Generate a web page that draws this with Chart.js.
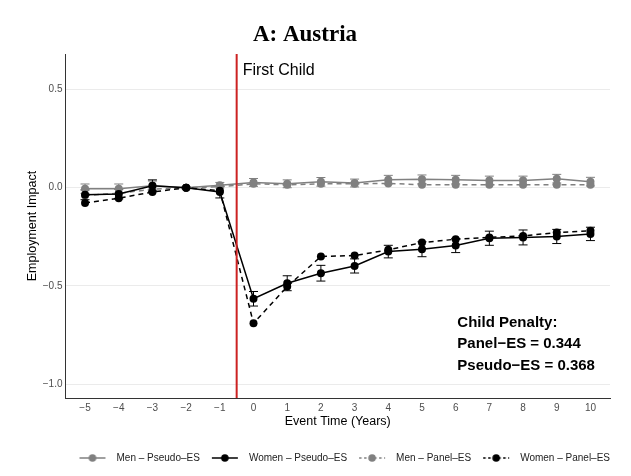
<!DOCTYPE html>
<html>
<head>
<meta charset="utf-8">
<script src="https://cdn.jsdelivr.net/npm/chart.js@4.4.0/dist/chart.umd.min.js"></script>
<style>
  html, body { margin: 0; padding: 0; background: #fff; }
  #wrap { width: 631px; height: 476px; }
</style>
</head>
<body>
<div id="wrap"><canvas id="penaltyChart" width="631" height="476"></canvas></div>
<script>
// event time (years relative to first child)
const events = [-5, -4, -3, -2, -1, 0, 1, 2, 3, 4, 5, 6, 7, 8, 9, 10];

// estimates
const menPseudo   = [-0.005, -0.005, 0.010, 0, 0.013, 0.027, 0.020, 0.030, 0.024, 0.041, 0.043, 0.041, 0.037, 0.037, 0.046, 0.031];
const womenPseudo = [-0.036, -0.032, 0.010, 0, -0.022, -0.565, -0.486, -0.435, -0.398, -0.325, -0.313, -0.294, -0.257, -0.253, -0.248, -0.235];
const menPanel    = [-0.040, -0.028, -0.008, 0, 0.005, 0.020, 0.015, 0.020, 0.020, 0.022, 0.015, 0.015, 0.015, 0.015, 0.015, 0.015];
const womenPanel  = [-0.078, -0.053, -0.022, 0, -0.015, -0.690, -0.503, -0.350, -0.345, -0.316, -0.279, -0.262, -0.253, -0.245, -0.228, -0.219];

// half-width of the confidence bands (pseudo-ES only)
const menPseudoCI   = [0.024, 0.024, 0.024, 0.006, 0.014, 0.020, 0.020, 0.022, 0.020, 0.022, 0.022, 0.022, 0.022, 0.022, 0.022, 0.022];
const womenPseudoCI = [0.025, 0.025, 0.030, 0.004, 0.030, 0.037, 0.038, 0.040, 0.036, 0.032, 0.038, 0.036, 0.036, 0.038, 0.036, 0.034];

const seriesLabels = ["Men \u2013 Pseudo\u2013ES", "Women \u2013 Pseudo\u2013ES", "Men \u2013 Panel\u2013ES", "Women \u2013 Panel\u2013ES"];
const xTicks = [-5, -4, -3, -2, -1, 0, 1, 2, 3, 4, 5, 6, 7, 8, 9, 10];
const yTicks = [-1.0, -0.5, 0.0, 0.5];
const penaltyLines = ["Child Penalty:", "Panel\u2212ES = 0.344", "Pseudo\u2212ES = 0.368"];

const GREY = "#808080";
const BLACK = "#000000";
const RED = "#cc2222";

Chart.defaults.font.family = "'Liberation Sans', Arial, sans-serif";

function pts(vals) {
    return events.map((e, i) => ({ x: e, y: vals[i] }));
}

function minus(v, digits) {
    const s = Math.abs(v).toFixed(digits);
    return v < 0 ? "\u2212" + s : s;
}

// line+dot keys for the legend (left gap 12, line 26, right gap 6)
function legendKey(color, dashed) {
    const c = document.createElement("canvas");
    c.width = 44;
    c.height = 12;
    const g = c.getContext("2d");
    g.strokeStyle = color;
    g.lineWidth = 1.5;
    if (dashed) g.setLineDash([2.5, 2.5]);
    g.beginPath();
    g.moveTo(12, 6);
    g.lineTo(38, 6);
    g.stroke();
    g.fillStyle = color;
    g.beginPath();
    g.arc(25, 6, 3.8, 0, Math.PI * 2);
    g.fill();
    return c;
}

const errorBars = {
    id: "errorBars",
    beforeDatasetsDraw(chart) {
        const ctx = chart.ctx;
        const y = chart.scales.y;
        chart.data.datasets.forEach((ds, i) => {
            if (!ds.ci) return;
            const meta = chart.getDatasetMeta(i);
            ctx.save();
            ctx.strokeStyle = ds.borderColor;
            ctx.lineWidth = 1;
            meta.data.forEach((pt, j) => {
                const v = ds.data[j].y;
                const top = y.getPixelForValue(v + ds.ci[j]);
                const bot = y.getPixelForValue(v - ds.ci[j]);
                ctx.beginPath();
                ctx.moveTo(pt.x, top); ctx.lineTo(pt.x, bot);
                ctx.moveTo(pt.x - 4.5, top); ctx.lineTo(pt.x + 4.5, top);
                ctx.moveTo(pt.x - 4.5, bot); ctx.lineTo(pt.x + 4.5, bot);
                ctx.stroke();
            });
            ctx.restore();
        });
    }
};

const annotations = {
    id: "annotations",
    afterDatasetsDraw(chart) {
        const ctx = chart.ctx;
        const { x, y } = chart.scales;
        const area = chart.chartArea;
        // first child marker
        const xr = x.getPixelForValue(-0.5);
        ctx.save();
        ctx.strokeStyle = RED;
        ctx.lineWidth = 2;
        ctx.beginPath();
        ctx.moveTo(xr, area.top);
        ctx.lineTo(xr, area.bottom);
        ctx.stroke();
        ctx.fillStyle = "#000";
        ctx.font = "16px 'Liberation Sans'";
        ctx.textBaseline = "middle";
        ctx.fillText("First Child", xr + 6, y.getPixelForValue(0.598));
        // child penalty box
        ctx.font = "bold 15px 'Liberation Sans'";
        const tx = x.getPixelForValue(6.05);
        const ty = y.getPixelForValue(-0.686);
        penaltyLines.forEach((t, i) => ctx.fillText(t, tx, ty + i * 21.5));
        ctx.restore();
    }
};

const styles = [
    { color: GREY, dashed: false, vals: menPseudo, ci: menPseudoCI, order: 2 },
    { color: BLACK, dashed: false, vals: womenPseudo, ci: womenPseudoCI, order: 1 },
    { color: GREY, dashed: true, vals: menPanel, ci: null, order: 2 },
    { color: BLACK, dashed: true, vals: womenPanel, ci: null, order: 1 }
];

const datasets = styles.map((s, i) => ({
    label: seriesLabels[i],
    data: pts(s.vals),
    ci: s.ci,
    order: s.order,
    borderColor: s.color,
    backgroundColor: s.color,
    pointBackgroundColor: s.color,
    pointBorderWidth: 0,
    pointRadius: 4,
    borderWidth: 1.5,
    borderDash: s.dashed ? [5, 4] : [],
    tension: 0
}));

new Chart(document.getElementById("penaltyChart"), {
    type: "line",
    data: { datasets },
    options: {
        responsive: false,
        animation: false,
        devicePixelRatio: 1,
        layout: { padding: { left: 0, right: 21, top: 0, bottom: 3 } },
        scales: {
            x: {
                type: "linear",
                min: -5.58,
                max: 10.58,
                afterBuildTicks: s => { s.ticks = xTicks.map(v => ({ value: v })); },
                afterFit: s => { s.height = 55; },
                grid: { display: false, drawTicks: false },
                border: { display: true, color: "#333", width: 1 },
                ticks: {
                    color: "#4d4d4d",
                    font: { size: 10 },
                    padding: 4,
                    maxRotation: 0,
                    autoSkip: false,
                    callback: v => minus(v, 0)
                },
                title: {
                    display: true,
                    text: "Event Time (Years)",
                    color: "#000",
                    font: { size: 12.5 },
                    padding: { top: 23.5, bottom: 23.5 }
                }
            },
            y: {
                min: -1.07,
                max: 0.68,
                afterBuildTicks: s => { s.ticks = yTicks.map(v => ({ value: v })); },
                afterFit: s => { s.width = 65.5; },
                grid: { color: "#ebebeb", lineWidth: 1, drawTicks: false },
                border: { display: true, color: "#333", width: 1 },
                ticks: {
                    color: "#4d4d4d",
                    font: { size: 10 },
                    padding: 3,
                    callback: v => minus(v, 1)
                },
                title: {
                    display: true,
                    text: "Employment Impact",
                    color: "#000",
                    font: { size: 12.5 },
                    padding: { top: 25, bottom: 25 }
                }
            }
        },
        plugins: {
            title: {
                display: true,
                text: "A: Austria",
                color: "#000",
                font: { family: "'Liberation Serif', serif", size: 23, weight: "bold" },
                padding: { top: 21.5, bottom: 5 }
            },
            legend: {
                position: "bottom",
                align: "end",
                labels: {
                    usePointStyle: true,
                    pointStyleWidth: 44,
                    padding: 0,
                    color: "#222",
                    font: { size: 10 },
                    generateLabels: chart => chart.data.datasets.map((ds, i) => ({
                        text: ds.label,
                        datasetIndex: i,
                        hidden: false,
                        pointStyle: legendKey(styles[i].color, styles[i].dashed),
                        fontColor: "#222",
                        lineWidth: 0
                    }))
                }
            },
            tooltip: { enabled: false }
        }
    },
    plugins: [errorBars, annotations]
});
</script>
</body>
</html>
